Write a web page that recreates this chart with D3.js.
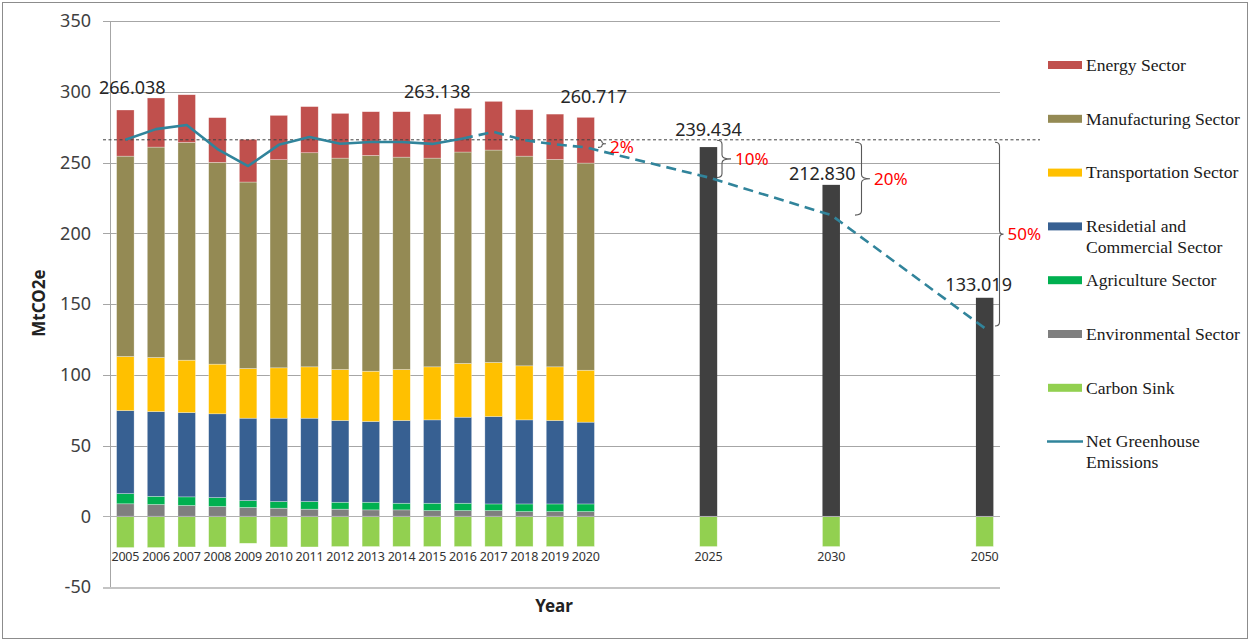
<!DOCTYPE html>
<html>
<head>
<meta charset="utf-8">
<script src="https://cdn.jsdelivr.net/npm/d3@7/dist/d3.min.js"></script>
<style>
  html, body { margin: 0; padding: 0; background: #ffffff; }
  svg { display: block; }
</style>
</head>
<body>
<svg id="chart" width="1250" height="641"></svg>
<script>
// ---------------- DATA ----------------
const categories = ["2005","2006","2007","2008","2009","2010","2011","2012","2013","2014","2015","2016","2017","2018","2019","2020",
                    "", "", "", "2025", "", "", "", "2030", "", "", "", "", "2050"];
const histYears = ["2005","2006","2007","2008","2009","2010","2011","2012","2013","2014","2015","2016","2017","2018","2019","2020"];
const targetYears = ["2025","2030","2050"];

const environmental = [8.8, 8.3, 7.6, 6.9, 6.2, 5.7, 5.0, 5.0, 4.5, 4.5, 4.0, 4.0, 4.0, 3.3, 3.3, 3.3];
const agriculture   = [7.2, 5.8, 6.1, 6.3, 4.9, 4.7, 5.4, 4.9, 5.4, 4.7, 5.2, 5.2, 4.7, 5.4, 5.4, 5.4];
const residential   = [58.7, 59.9, 59.6, 59.2, 58.2, 58.9, 58.9, 57.8, 57.1, 58.5, 58.9, 60.8, 61.8, 59.4, 59.0, 57.8];
const transport     = [38.2, 38.2, 37.0, 35.1, 35.1, 35.6, 36.3, 36.0, 35.5, 36.0, 37.5, 38.0, 38.2, 38.2, 37.9, 36.7];
const manufacturing = [141.6, 148.7, 153.9, 142.6, 131.8, 147.1, 151.3, 149.4, 152.5, 150.1, 147.5, 149.4, 150.1, 148.2, 146.6, 146.4];
const energy        = [32.6, 34.7, 33.7, 31.6, 30.1, 31.3, 32.6, 31.6, 30.9, 32.1, 31.1, 30.9, 34.4, 32.8, 32.0, 32.3];
const carbonSink    = [-22.1, -22.1, -21.7, -21.7, -19.1, -21.7, -21.7, -21.4, -21.4, -21.4, -21.4, -21.4, -21.4, -21.4, -21.4, -21.4];

const netHist    = [266.038, 273.6, 276.5, 259.5, 247.5, 262.5, 268.0, 263.3, 264.5, 264.5, 263.138, 267.0, 271.6, 265.8, 262.8, 260.717];
const targetGross = [260.9, 234.2, 154.4];
const targetSink  = [-21.4, -21.4, -21.4];
const netTarget   = [239.434, 212.830, 133.019];

const baseValue = 266.038;               // 2005 reference level
const labelYears = ["2005","2015","2020","2025","2030","2050"];
const reductionLabels = ["2%","10%","20%","50%"];
const reductionTargets = [260.717, 239.434, 212.830, 133.019];

const yTicks = [-50, 0, 50, 100, 150, 200, 250, 300, 350];

const sectorNames = ["Energy Sector","Manufacturing Sector","Transportation Sector","Residetial and|Commercial Sector",
                     "Agriculture Sector","Environmental Sector","Carbon Sink","Net Greenhouse|Emissions"];

// ---------------- STYLE ----------------
const colors = {
  environmental: "#7f7f7f",
  agriculture: "#00b050",
  residential: "#376092",
  transport: "#ffc000",
  manufacturing: "#948a54",
  energy: "#c0504d",
  carbonSink: "#92d050",
  target: "#404040",
  net: "#31849b"
};
const sansFont = "'Noto Sans', 'Open Sans', sans-serif";
const serifFont = "'Liberation Serif', 'DejaVu Serif', serif";

const svg = d3.select("#chart");
const W = 1250, H = 641;

// chart border
svg.append("rect").attr("x", 2.5).attr("y", 2.5).attr("width", W - 5).attr("height", H - 5)
   .attr("fill", "#fff").attr("stroke", "#8c8c8c").attr("stroke-width", 1);

const plot = { left: 110, right: 1000, top: 21, bottom: 587 };

const x = d3.scaleBand()
  .domain(d3.range(categories.length))
  .range([plot.left, plot.right])
  .paddingInner(0.43)
  .paddingOuter(0.215);

const y = d3.scaleLinear().domain([-50, 350]).range([plot.bottom, plot.top]);

const idx = yr => categories.indexOf(yr);
const cx = yr => x(idx(yr)) + x.bandwidth() / 2;

// ---------------- GRID & Y AXIS ----------------
const yAxis = d3.axisLeft(y).tickValues(yTicks).tickSize(plot.right - plot.left + 7).tickPadding(12)
  .tickFormat(d => String(d));
const gy = svg.append("g").attr("transform", `translate(${plot.right},0)`).call(yAxis);
gy.select(".domain").remove();
gy.selectAll(".tick line")
  .attr("stroke", d => d === -50 ? "#c4c4c4" : "#a6a6a6")
  .attr("stroke-width", d => d === -50 ? 2 : 1)
  .attr("shape-rendering", "crispEdges");
gy.selectAll(".tick text")
  .attr("x", -(plot.right - plot.left) - 19)
  .attr("font-family", sansFont).attr("font-size", 18).attr("fill", "#404040");

// vertical axis line
svg.append("line").attr("x1", plot.left).attr("x2", plot.left)
  .attr("y1", plot.top).attr("y2", plot.bottom)
  .attr("stroke", "#a6a6a6").attr("stroke-width", 1).attr("shape-rendering", "crispEdges");

// ---------------- STACKED BARS ----------------
const rows = histYears.map((yr, i) => ({
  year: yr,
  environmental: environmental[i], agriculture: agriculture[i], residential: residential[i],
  transport: transport[i], manufacturing: manufacturing[i], energy: energy[i], carbonSink: carbonSink[i]
}));
const keys = ["environmental","agriculture","residential","transport","manufacturing","energy","carbonSink"];
const stacked = d3.stack().keys(keys).offset(d3.stackOffsetDiverging)(rows);

const barG = svg.append("g");
stacked.forEach(layer => {
  barG.selectAll(null).data(layer).enter().append("rect")
    .attr("x", d => x(idx(d.data.year)))
    .attr("width", x.bandwidth())
    .attr("y", d => y(Math.max(d[0], d[1])))
    .attr("height", d => Math.abs(y(d[0]) - y(d[1])))
    .attr("fill", colors[layer.key])
    .attr("stroke", "#ffffff").attr("stroke-opacity", 0.5).attr("stroke-width", 0.6);
});

// target bars
const tRows = targetYears.map((yr, i) => ({ year: yr, gross: targetGross[i], sink: targetSink[i] }));
barG.selectAll(null).data(tRows).enter().append("rect")
  .attr("x", d => x(idx(d.year))).attr("width", x.bandwidth())
  .attr("y", d => y(d.gross)).attr("height", d => y(0) - y(d.gross))
  .attr("fill", colors.target);
barG.selectAll(null).data(tRows).enter().append("rect")
  .attr("x", d => x(idx(d.year))).attr("width", x.bandwidth())
  .attr("y", y(0)).attr("height", d => y(d.sink) - y(0))
  .attr("fill", colors.carbonSink)
  .attr("stroke", "#ffffff").attr("stroke-opacity", 0.5).attr("stroke-width", 0.6);

// zero line on top of bars
svg.append("line").attr("x1", plot.left - 7).attr("x2", plot.right)
  .attr("y1", y(0)).attr("y2", y(0))
  .attr("stroke", "#b0b0b0").attr("stroke-width", 1.2).attr("shape-rendering", "crispEdges");

// ---------------- X LABELS ----------------
svg.append("g").selectAll("text")
  .data(categories.map((c, i) => ({ c, i })).filter(d => d.c !== ""))
  .enter().append("text")
  .attr("x", d => x(d.i) + x.bandwidth() / 2)
  .attr("y", 561)
  .attr("text-anchor", "middle")
  .attr("font-family", sansFont).attr("font-size", 12.5).attr("letter-spacing", -0.2)
  .attr("fill", "#333")
  .text(d => d.c);

svg.append("text").attr("x", 554).attr("y", 612).attr("text-anchor", "middle")
  .attr("font-family", sansFont).attr("font-size", 17).attr("font-weight", "bold").attr("fill", "#222")
  .text("Year");

svg.append("text").attr("transform", "translate(45,303) rotate(-90)").attr("text-anchor", "middle")
  .attr("font-family", sansFont).attr("font-size", 17).attr("font-weight", "bold").attr("fill", "#222")
  .text("MtCO2e");

// ---------------- REFERENCE LINE ----------------
svg.append("line").attr("x1", 103).attr("x2", 1040)
  .attr("y1", y(baseValue)).attr("y2", y(baseValue))
  .attr("stroke", "#404040").attr("stroke-width", 1).attr("stroke-dasharray", "3,2.5");

// ---------------- NET LINE ----------------
const netPoints = histYears.map((yr, i) => ({ year: yr, v: netHist[i] }))
  .concat(targetYears.map((yr, i) => ({ year: yr, v: netTarget[i] })));
const line = d3.line().x(d => cx(d.year)).y(d => y(d.v));
const splitIdx = histYears.indexOf("2016");
svg.append("path").datum(netPoints.slice(0, splitIdx + 1))
  .attr("d", line).attr("fill", "none").attr("stroke", colors.net).attr("stroke-width", 2.6)
  .attr("stroke-linejoin", "round");
svg.append("path").datum(netPoints.slice(splitIdx))
  .attr("d", line).attr("fill", "none").attr("stroke", colors.net).attr("stroke-width", 2.6)
  .attr("stroke-dasharray", "10,6");

// ---------------- DATA LABELS ----------------
const labelOffsets = { "2005": [7, 16], "2015": [5, 16], "2020": [8, 14], "2025": [0, 11], "2030": [-9, 5], "2050": [-6, 7] };
const topOf = yr => {
  const hi = histYears.indexOf(yr);
  if (hi >= 0) return environmental[hi] + agriculture[hi] + residential[hi] + transport[hi] + manufacturing[hi] + energy[hi];
  return targetGross[targetYears.indexOf(yr)];
};
const netOf = yr => {
  const hi = histYears.indexOf(yr);
  return hi >= 0 ? netHist[hi] : netTarget[targetYears.indexOf(yr)];
};
svg.append("g").selectAll("text").data(labelYears).enter().append("text")
  .attr("x", d => cx(d) + labelOffsets[d][0])
  .attr("y", d => y(topOf(d)) - labelOffsets[d][1])
  .attr("text-anchor", "middle")
  .attr("font-family", sansFont).attr("font-size", 18).attr("fill", "#262626")
  .text(d => d3.format(".3f")(netOf(d)));

// ---------------- BRACES ----------------
const braceX = [602, 722, 861.5, 999.5];   // vertical line x
const braceArm = [4, 5, 6.5, 4.5];
const braceTip = [4, 9, 8.5, 4];
function bracePath(xv, arm, tip, yTop, yBot) {
  const x0 = xv - arm, yMid = (yTop + yBot) / 2;
  const r = Math.min(4, (yBot - yTop) / 4);
  return `M${x0},${yTop} Q${xv},${yTop} ${xv},${yTop + r} L${xv},${yMid - r} Q${xv},${yMid} ${xv + tip},${yMid}` +
         ` Q${xv},${yMid} ${xv},${yMid + r} L${xv},${yBot - r} Q${xv},${yBot} ${x0},${yBot}`;
}
const braceG = svg.append("g");
reductionTargets.forEach((v, i) => {
  const yTop = y(baseValue) + (i >= 2 ? 2.5 : 0.5);
  const yBot = y(v) - (i === 3 ? 2 : 0);
  braceG.append("path").attr("d", bracePath(braceX[i], braceArm[i], braceTip[i], yTop, yBot))
    .attr("fill", "none").attr("stroke", "#595959").attr("stroke-width", 1.1);
  braceG.append("text")
    .attr("x", braceX[i] + braceTip[i] + 4)
    .attr("y", (yTop + yBot) / 2 + (i === 0 ? 3 : 0))
    .attr("dy", "0.35em")
    .attr("font-family", sansFont).attr("font-size", 17).attr("fill", "#ff0000")
    .text(reductionLabels[i]);
});

// ---------------- LEGEND ----------------
const legendColors = [colors.energy, colors.manufacturing, colors.transport, colors.residential,
                      colors.agriculture, colors.environmental, colors.carbonSink, colors.net];
const legG = svg.append("g");
sectorNames.forEach((name, i) => {
  const yc = 65 + i * 53.8;
  if (i < 7) {
    legG.append("rect").attr("x", 1048).attr("y", yc - 4).attr("width", 34).attr("height", 8)
      .attr("fill", legendColors[i]);
  } else {
    legG.append("line").attr("x1", 1047).attr("x2", 1083).attr("y1", yc).attr("y2", yc)
      .attr("stroke", legendColors[i]).attr("stroke-width", 2.5);
  }
  const parts = name.split("|");
  const t = legG.append("text").attr("x", 1086).attr("y", yc)
    .attr("font-family", serifFont).attr("font-size", 17.6).attr("fill", "#1a1a1a");
  parts.forEach((p, j) => {
    t.append("tspan").attr("x", 1086).attr("y", yc + j * 20.8).attr("dy", "0.33em").text(p);
  });
});
</script>
</body>
</html>
